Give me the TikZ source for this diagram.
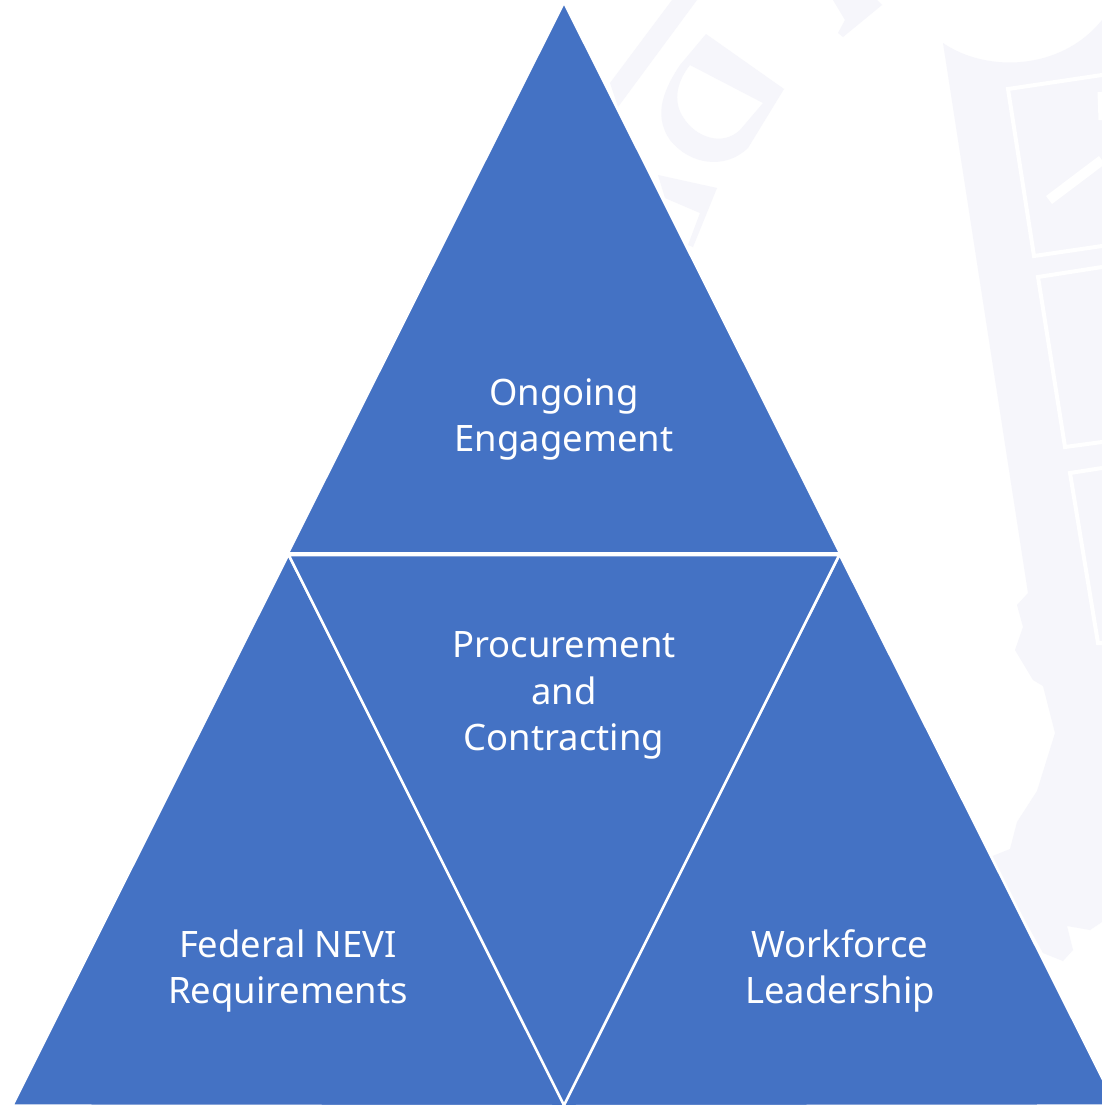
\documentclass[tikz,border=0pt]{standalone}
\usepackage{fontspec}
\setmainfont{Noto Sans}
\definecolor{tribluefill}{HTML}{4472C4}
\definecolor{wmark}{HTML}{F6F6FB}
\tikzset{
  tri/.style={fill=tribluefill,draw=white,line width=2.6pt,line join=miter},
  lab/.style={text=white,align=center,inner sep=0pt,font=\fontsize{36.4}{46.8}\selectfont},
  wmfill/.style={fill=wmark,even odd rule},
  wmgap/.style={draw=white,line width=4pt}
}
\begin{document}
\begin{tikzpicture}[x=1pt,y=-1pt]
\useasboundingbox (0,0) rectangle (1102,1106);
\fill[white] (0,0) rectangle (1102,1106);
\begin{scope}
\clip (0,0) rectangle (1102,1106);
% faint watermark: shield and map
\fill[wmfill] (943,43) .. controls (985,72) and (1060,72) .. (1102,20)
  -- (1102,922) -- (1090,930) -- (1067,926) -- (1073,950) -- (1063,961) -- (1043,953)
  -- (990,857) -- (1010,849) -- (1017,822) -- (1037,791) -- (1055,733) -- (1043,686)
  -- (1033,680) -- (1015,650) -- (1023,627) -- (1017,605) -- (1028,593) -- cycle;
\draw[wmgap] (1102,75) -- (1008,89) -- (1034,256) -- (1102,246);
\draw[wmgap] (1102,267) -- (1038,277) -- (1065,447) -- (1102,442);
\draw[wmgap] (1102,468) -- (1070,473) -- (1098,643) -- (1102,643);
\draw[draw=white,line width=10pt] (1049,200) -- (1102,160);
\draw[draw=white,line width=7pt] (1101,92) -- (1102,120);
% faint watermark: lettering
\fill[wmfill] (610,83) -- (672,0) -- (697,0) -- (618,107) -- cycle;
\fill[wmfill] (706,34) -- (784,89) -- (748,148) .. controls (725,170) and (690,165) .. (670,140)
   .. controls (655,118) and (660,95) .. (680,65) -- cycle
   (690,65) -- (763,103) -- (740,130) .. controls (722,147) and (695,137) .. (683,117)
   .. controls (672,100) and (678,80) .. (690,65) -- cycle;
\fill[wmfill] (658,175) -- (717,188) -- (693,247) -- (688,245) -- (700,213) -- (665,198) -- cycle;
\fill[wmfill] (833,0) -- (845,20) -- (838,33) -- (843,37) -- (882,5) -- (877,0) -- cycle;
% triangles
\path[tri] (564,2.2) -- (840.3,553.5) -- (287.7,553.5) -- cycle;
\path[tri] (288.5,554.2) -- (565.2,1106.3) -- (12.2,1105.7) -- cycle;
\path[tri] (839.5,554.2) -- (1116.2,1105.7) -- (562.8,1106.3) -- cycle;
\path[tri] (288.7,555) -- (839.3,555) -- (564,1105.3) -- cycle;
\end{scope}
\node[lab] (top) at (564,419.5) {Ongoing\\Engagement};
\node[lab] (mid) at (564,695.5) {Procurement\\and\\Contracting};
\node[lab] (left) at (288,971) {Federal NEVI\\Requirements};
\node[lab] (right) at (840,971) {Workforce\\Leadership};
\end{tikzpicture}
\end{document}
